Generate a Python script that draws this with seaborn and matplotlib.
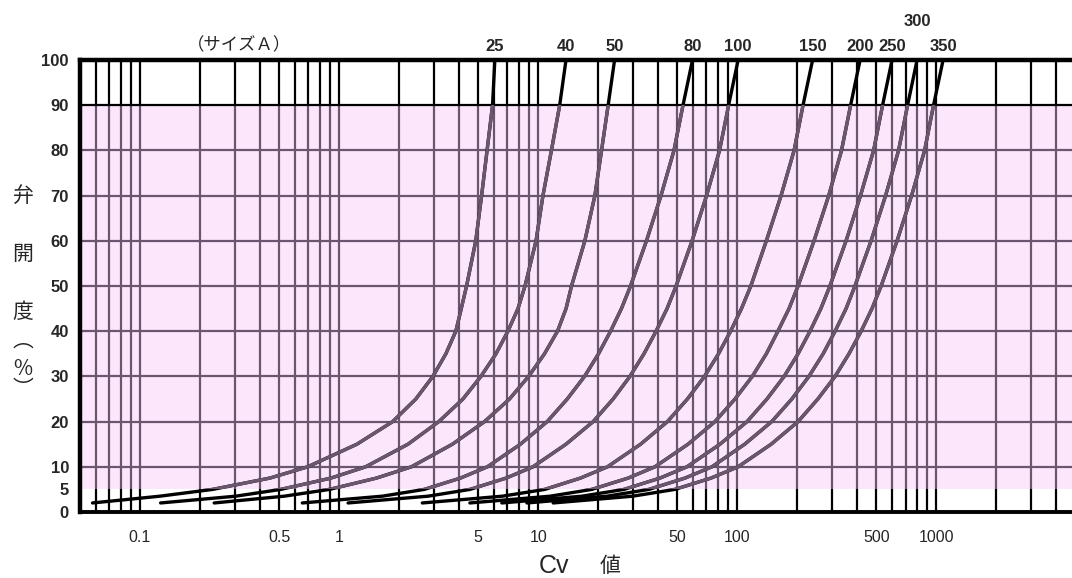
import numpy as np
import pandas as pd
import matplotlib
matplotlib.use("Agg")
import matplotlib.pyplot as plt
from matplotlib.ticker import LogLocator
import seaborn as sns

# ---------------- data ----------------
openings = [2, 3.5, 5, 7.5, 10, 15, 20, 25, 30, 35, 40, 45, 50, 60, 70, 80, 90, 100]
sizes = ["25", "40", "50", "80", "100", "150", "200", "250", "300", "350"]

cv_25 = [0.0578, 0.126, 0.232, 0.449, 0.696, 1.23, 1.86, 2.43, 2.96, 3.44, 3.86, 4.11, 4.37, 4.86, 5.20, 5.54, 5.90, 6.06]
cv_40 = [0.127, 0.303, 0.510, 0.910, 1.36, 2.22, 3.17, 4.19, 5.16, 6.14, 7.05, 7.92, 8.59, 9.76, 10.57, 11.66, 12.83, 13.8]
cv_50 = [0.236, 0.531, 0.895, 1.54, 2.31, 3.71, 5.38, 7.18, 8.95, 10.76, 12.51, 13.81, 14.71, 17.16, 19.27, 20.82, 22.47, 24.2]
cv_80 = [0.654, 1.65, 2.68, 4.07, 5.56, 8.15, 11.1, 14.0, 17.1, 20.1, 23.1, 26.2, 29.1, 35.0, 41.4, 48.1, 53.4, 59.6]
cv_100 = [1.11, 2.80, 4.55, 6.90, 9.42, 13.8, 18.9, 23.8, 28.9, 34.0, 39.1, 44.4, 49.3, 59.3, 70.1, 81.5, 90.5, 101]
cv_150 = [2.62, 6.62, 10.8, 16.3, 22.3, 32.7, 44.6, 56.2, 68.5, 80.5, 92.6, 105, 117, 140, 166, 193, 214, 239]
cv_200 = [4.54, 11.5, 18.6, 28.3, 38.6, 56.6, 77.3, 97.4, 119, 140, 160, 182, 202, 243, 288, 334, 371, 414]
cv_250 = [6.57, 16.6, 27.0, 40.9, 55.9, 81.9, 112, 141, 172, 202, 232, 263, 292, 352, 416, 484, 537, 599]
cv_300 = [8.78, 22.2, 36.0, 54.6, 74.6, 109, 149, 188, 229, 270, 310, 352, 390, 470, 556, 646, 717, 800]
cv_350 = [11.9, 29.9, 48.6, 73.8, 101, 148, 202, 254, 310, 364, 419, 475, 528, 635, 751, 873, 968, 1081]

xtick_vals = [0.1, 0.5, 1, 5, 10, 50, 100, 500, 1000]
xtick_labels = ["0.1", "0.5", "1", "5", "10", "50", "100", "500", "1000"]
ytick_vals = [0, 5, 10, 20, 30, 40, 50, 60, 70, 80, 90, 100]
ytick_labels = [str(v) for v in ytick_vals]
pink_band = (5, 90)
hgrid_vals = [10, 20, 30, 40, 50, 60, 70, 80]

series = [cv_25, cv_40, cv_50, cv_80, cv_100, cv_150, cv_200, cv_250, cv_300, cv_350]
rows = []
for s, cvs in zip(sizes, series):
    for o, c in zip(openings, cvs):
        rows.append({"size": s, "opening": o, "cv": c})
df = pd.DataFrame(rows)

# ---------------- style ----------------
sns.set_style("white")
plt.rcParams["font.family"] = ["Liberation Sans", "Noto Sans CJK JP", "DejaVu Sans"]
JP = ["Noto Sans CJK JP", "DejaVu Sans"]

PINK = "#fce6fc"
PURPLE = "#6b5670"
BLACK = "#000000"

XMIN, XMAX = 0.05, 4800

fig = plt.figure(figsize=(10.72, 5.78), dpi=100)
ax = fig.add_axes([80 / 1072, 66 / 578, 992 / 1072, 452 / 578])
ax.set_xscale("log")
ax.set_xlim(XMIN, XMAX)
ax.set_ylim(0, 100)

# pink band
band = ax.axhspan(pink_band[0], pink_band[1], color=PINK, lw=0, zorder=0)

# vertical grid (log minor positions), black outside band, purple inside
gx = LogLocator(base=10, subs=np.arange(1, 10)).tick_values(XMIN, XMAX)
gx = [v for v in gx if XMIN * 0.99 < v < XMAX]
ax.vlines(gx, 0, pink_band[0], color=BLACK, lw=1.6, zorder=1)
ax.vlines(gx, pink_band[0], pink_band[1], color=PURPLE, lw=1.6, zorder=1)
ax.vlines(gx, pink_band[1], 100, color=BLACK, lw=1.6, zorder=1)
ax.hlines(hgrid_vals, XMIN, XMAX, color=PURPLE, lw=1.6, zorder=1)
ax.axhline(pink_band[1], color=BLACK, lw=1.6, zorder=1)

# curves: black everywhere, purple inside the pink band
sns.lineplot(data=df, x="cv", y="opening", units="size", estimator=None,
             sort=False, color=BLACK, lw=2.4, ax=ax, legend=False, zorder=3)
n1 = len(ax.lines)
sns.lineplot(data=df, x="cv", y="opening", units="size", estimator=None,
             sort=False, color=PURPLE, lw=2.4, ax=ax, legend=False, zorder=4)
for ln in ax.lines[n1:]:
    ln.set_clip_path(band)
    ln.set_solid_joinstyle("round")

ax.set_xlim(XMIN, XMAX)
ax.set_ylim(0, 100)

# spines
for side in ["left", "top"]:
    ax.spines[side].set_linewidth(3.2)
    ax.spines[side].set_color(BLACK)
ax.spines["bottom"].set_linewidth(2.8)
ax.spines["bottom"].set_color(BLACK)
ax.spines["right"].set_visible(False)

ax.set_xticks(xtick_vals)
ax.set_xticklabels(xtick_labels)
ax.xaxis.set_minor_locator(plt.NullLocator())
ax.set_yticks(ytick_vals)
ax.set_yticklabels(ytick_labels, fontweight="bold")
ax.tick_params(axis="x", length=0, pad=13, labelsize=11.5)
ax.tick_params(axis="y", length=0, pad=8, labelsize=12)
ax.set_xlabel("")
ax.set_ylabel("")

# size labels at top of each curve
for s, cvs in zip(sizes, series):
    dy = 22 if s == "300" else 4.5
    ax.annotate(s, xy=(cvs[-1], 100), xytext=(0, dy), textcoords="offset points",
                ha="center", va="bottom", fontsize=12, fontweight="bold",
                annotation_clip=False)

fig.text(239 / 1072, 1 - 45 / 578, "（サイズＡ）", ha="center", va="center",
         fontsize=12.5, family=JP)

# vertical y label
ylab = [("弁", 196), ("開", 254), ("度", 312), ("︵", 341), ("%", 369), ("︶", 389)]
for ch, py in ylab:
    fig.text(23 / 1072, 1 - py / 578, ch, ha="center", va="center", fontsize=15,
             family=JP)

fig.text(554 / 1072, 1 - 566 / 578, "Cv", ha="center", va="center", fontsize=18,
         family=["Liberation Sans", "DejaVu Sans"])
fig.text(610 / 1072, 1 - 566 / 578, "値", ha="center", va="center", fontsize=15,
         family=JP)

fig.savefig("out.png", dpi=100)
